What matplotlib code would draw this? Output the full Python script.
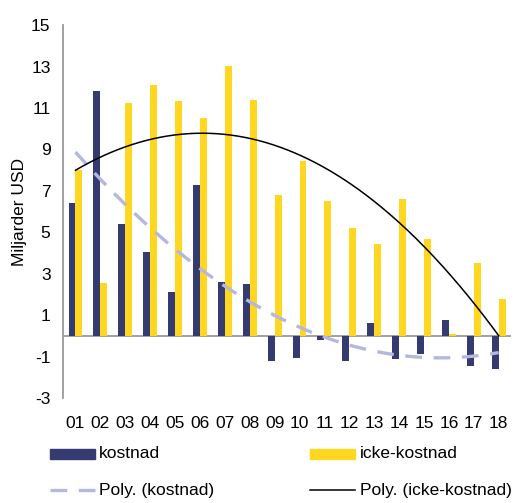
import numpy as np
import matplotlib.pyplot as plt
from matplotlib.lines import Line2D
from matplotlib.patches import Rectangle

plt.rcParams['font.family'] = ['Liberation Sans', 'DejaVu Sans']
plt.rcParams['axes.unicode_minus'] = False

# ar 2001-2018
years = ["01", "02", "03", "04", "05", "06", "07", "08", "09",
         "10", "11", "12", "13", "14", "15", "16", "17", "18"]
kostnad = [6.4, 11.8, 5.4, 4.05, 2.1, 7.3, 2.6, 2.5, -1.2,
           -1.05, -0.2, -1.2, 0.6, -1.1, -0.87, 0.77, -1.45, -1.6]
icke_kostnad = [8.0, 2.56, 11.25, 12.1, 11.35, 10.5, 13.05, 11.4, 6.8,
                8.45, 6.5, 5.2, 4.45, 6.6, 4.7, 0.1, 3.5, 1.8]

navy = "#353a70"
yellow = "#ffd620"
lavender = "#b4b8de"
fs = 12.5

fig = plt.figure(figsize=(5.21, 5.03), dpi=100)
ax = fig.add_axes([0.121, 0.2087, 0.86, 0.7413])

x = np.arange(1, len(years) + 1)
w = 0.28
ax.bar(x - w / 2, kostnad, w, color=navy, zorder=2)
ax.bar(x + w / 2, icke_kostnad, w, color=yellow, zorder=2)

# polynomial trendlines (order 2), as in the spreadsheet
xs = np.linspace(1, len(years), 300)
pk = np.polyfit(x, kostnad, 2)
pi = np.polyfit(x, icke_kostnad, 2)
ax.plot(xs, np.polyval(pk, xs), color=lavender, lw=2.4, ls=(0, (5, 3.5)), zorder=3)
ax.plot(xs, np.polyval(pi, xs), color="black", lw=1.1, zorder=4)

ax.axhline(0, color="#9a9a9a", lw=1.3, zorder=1)
ax.set_xlim(0.5, len(years) + 0.5)
ax.set_ylim(-3, 15)
ax.set_yticks(np.arange(-3, 16, 2))
ax.set_xticks(x)
ax.set_xticklabels(years)
ax.tick_params(axis="both", length=0, labelsize=fs)
ax.tick_params(axis="y", pad=9)
ax.tick_params(axis="x", pad=13)
for s in ["top", "right", "bottom"]:
    ax.spines[s].set_visible(False)
ax.spines["left"].set_color("#9a9a9a")
ax.spines["left"].set_linewidth(1.3)
ax.set_ylabel("Miljarder USD", fontsize=fs, labelpad=3)

# legend drawn by hand in two columns
W, H = 521, 503
def fx(px):
    return px / W
def fy(py):
    return 1 - py / H

fig.patches.append(Rectangle((fx(50), fy(459)), fx(45), 10 / H, color=navy,
                             transform=fig.transFigure, figure=fig))
fig.text(fx(99), fy(454), "kostnad", fontsize=fs, va="center")
fig.patches.append(Rectangle((fx(310), fy(459)), fx(45), 10 / H, color=yellow,
                             transform=fig.transFigure, figure=fig))
fig.text(fx(360), fy(454), "icke-kostnad", fontsize=fs, va="center")

fig.lines.append(Line2D([fx(50), fx(95)], [fy(490), fy(490)], color=lavender, lw=2.4,
                        ls=(0, (5, 3.5)), transform=fig.transFigure))
fig.text(fx(99), fy(490), "Poly. (kostnad)", fontsize=fs, va="center")
fig.lines.append(Line2D([fx(310), fx(355)], [fy(490), fy(490)], color="black", lw=1.1,
                        transform=fig.transFigure))
fig.text(fx(360), fy(490), "Poly. (icke-kostnad)", fontsize=fs, va="center")

fig.savefig("out.png", dpi=100)
